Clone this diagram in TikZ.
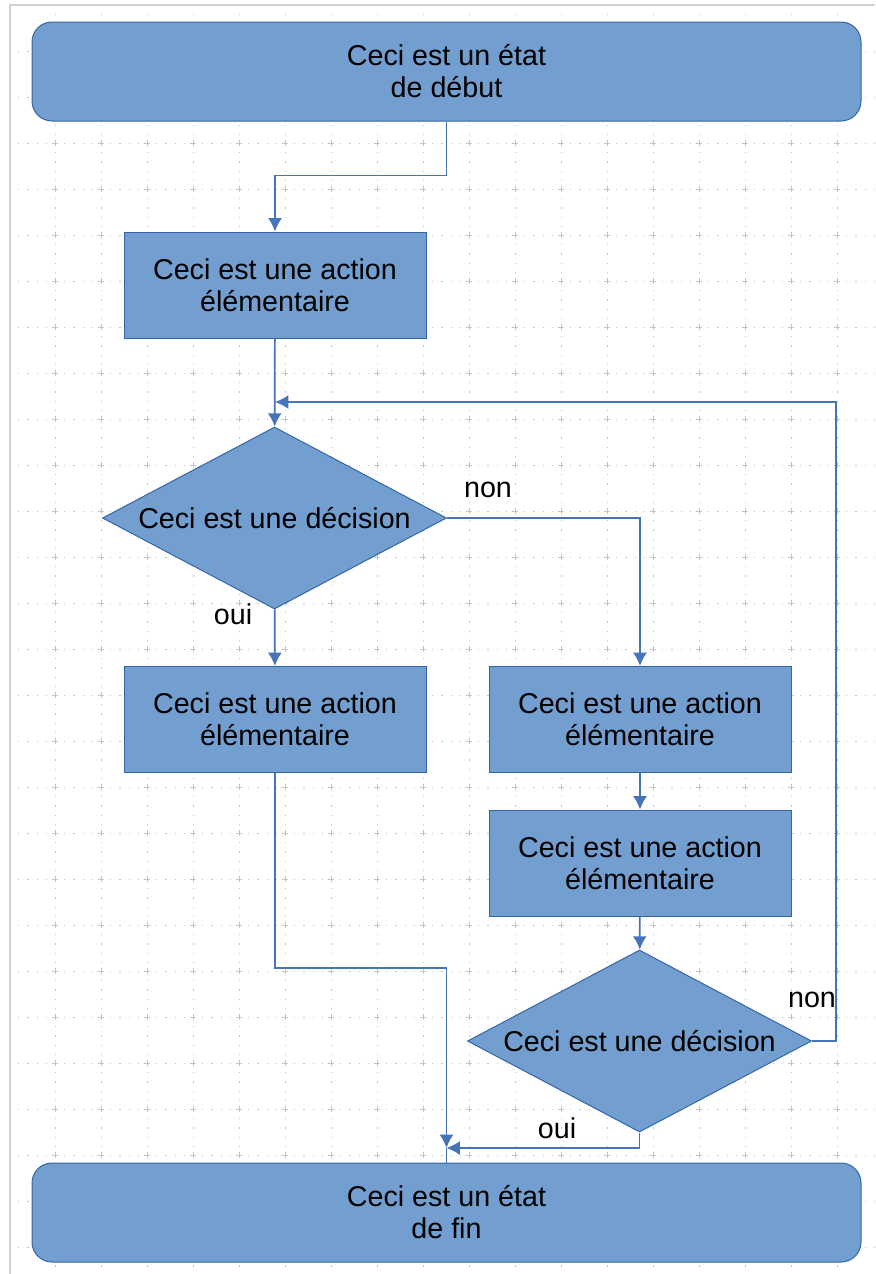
\documentclass[tikz,border=0pt]{standalone}
\usepackage{fontspec}
\setmainfont{Liberation Sans}
\usepackage{tikz}
\usetikzlibrary{shapes,arrows.meta}
\definecolor{boxfill}{RGB}{114,159,207}
\definecolor{boxdraw}{RGB}{52,101,164}
\definecolor{linkcol}{RGB}{70,116,184}
\definecolor{gridcol}{RGB}{195,195,195}

\begin{document}
\begin{tikzpicture}[x=0.75pt, y=-0.75pt,
      font=\fontsize{21.5}{24}\selectfont,
      block_round/.style ={rectangle, rounded corners=15pt, draw=boxdraw, fill=boxfill,
        line width=0.75pt, align=center, minimum width=621.75pt, minimum height=74.25pt},
      block_center/.style ={rectangle, draw=boxdraw, fill=boxfill,
        line width=0.75pt, align=center, minimum width=226.5pt, minimum height=79.5pt},
      block_decision/.style ={diamond, draw=boxdraw, fill=boxfill, line width=0.75pt,
        aspect=1.88, inner sep=0pt, minimum width=258pt, minimum height=136.5pt},
      block_noborder/.style ={rectangle, draw=none, fill=none, inner sep=0pt},
      gridline/.style ={gridcol, line width=0.6pt, dash pattern=on 0.9pt off 6pt},
      line/.style ={draw=linkcol, line width=1.3pt, -{Latex[length=10pt,width=10.5pt]}}]
    \useasboundingbox (0,0) rectangle (875,1274);
    %
    % 0. background grid and frame
    \foreach \gx in {55,101,...,875}
      \draw[gridline] (\gx,5) -- (\gx,1274);
    \foreach \gy in {51,97,...,1274}
      \draw[gridline] (9,\gy) -- (875,\gy);
    \foreach \gx in {55,101,...,875}
      \foreach \gy in {51,97,...,1274}
        \draw[gridcol, line width=0.7pt] (\gx-3,\gy) -- (\gx+3,\gy) (\gx,\gy-3) -- (\gx,\gy+3);
    \draw[gray!35, line width=1pt] (10,1274) -- (10,5) -- (875,5);
    %
    % 1. placing the nodes
    \node [block_round] (start) at (446.5,71.5) {Ceci est un état\\de début};
    \node [block_center] (act1) at (275,285) {Ceci est une action\\élémentaire};
    \node [block_decision] (dec1) at (274.5,518) {Ceci est une décision};
    \node [block_center] (act2) at (275,719.5) {Ceci est une action\\élémentaire};
    \node [block_center] (act3) at (640,719.5) {Ceci est une action\\élémentaire};
    \node [block_center] (act4) at (640,863) {Ceci est une action\\élémentaire};
    \node [block_decision] (dec2) at (639.5,1041) {Ceci est une décision};
    \node [block_round] (stop) at (446.5,1212.5) {Ceci est un état\\de fin};
    % labels of the branches
    \node [block_noborder] (non1) at (488,490) {non};
    \node [block_noborder] (oui1) at (233,614) {oui};
    \node [block_noborder] (non2) at (812,1000) {non};
    \node [block_noborder] (oui2) at (557,1128) {oui};
    % points where paths meet
    \coordinate (loop_in) at (275,402);
    \coordinate (merge) at (446.5,1148);
    %
    % 2. connecting nodes with paths
    \begin{scope}[every path/.style=line]
      \path (start.south) -- ++(0,54) -| (act1.north);
      \path (act1) -- (dec1);
      \path (dec1) -- (act2);
      \path (dec1.east) -| (act3.north);
      \path (act3) -- (act4);
      \path (act4) -- (dec2);
      \path (dec2.east) -- ++(24,0) |- (loop_in);
      \path (act2.south) -- ++(0,195) -| (merge);
      \path (dec2.south) |- (merge);
      \path[-] (merge) -- (stop.north);
    \end{scope}
  \end{tikzpicture}
\end{document}
